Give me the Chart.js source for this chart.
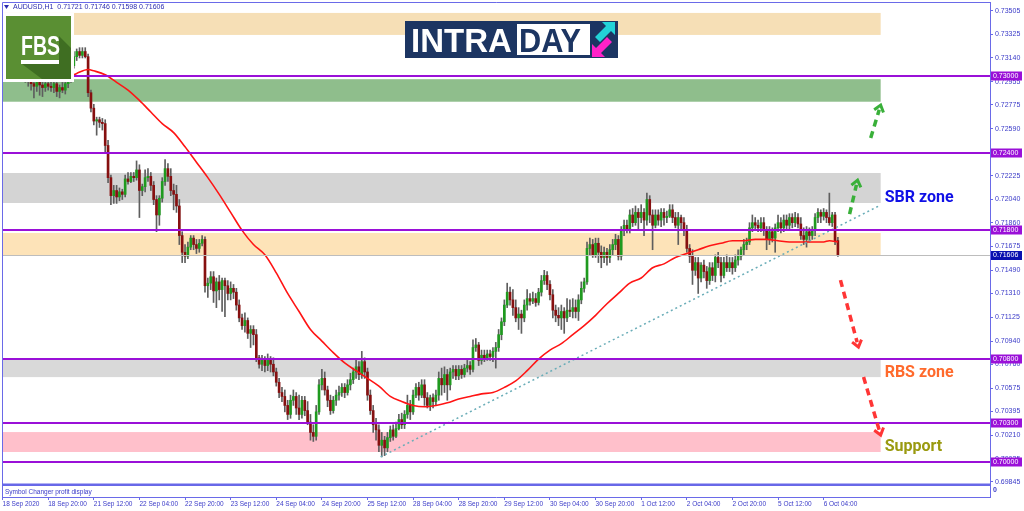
<!DOCTYPE html>
<html>
<head>
<meta charset="utf-8">
<script src="https://cdn.jsdelivr.net/npm/chart.js@4"></script>
<style>
  html, body { margin: 0; padding: 0; background: #fff; }
  #wrap { width: 1024px; height: 511px; }
</style>
</head>
<body>
<div id="wrap"><canvas id="chart" width="1024" height="511"></canvas></div>
<script>
// AUDUSD H1, 18 Sep 2020 04:00 .. 6 Oct 2020 09:00 (one bar per hour, weekends skipped)
const timeLabels = ['18 Sep 2020', '18 Sep 20:00', '21 Sep 12:00', '22 Sep 04:00', '22 Sep 20:00', '23 Sep 12:00',
  '24 Sep 04:00', '24 Sep 20:00', '25 Sep 12:00', '28 Sep 04:00', '28 Sep 20:00', '29 Sep 12:00', '30 Sep 04:00',
  '30 Sep 20:00', '1 Oct 12:00', '2 Oct 04:00', '2 Oct 20:00', '5 Oct 12:00', '6 Oct 04:00'];
const barsPerLabel = 16;

const priceTicks = [0.73505, 0.73325, 0.73140, 0.72955, 0.72775, 0.72590, 0.72410, 0.72225, 0.72040, 0.71860,
  0.71675, 0.71490, 0.71310, 0.71125, 0.70940, 0.70760, 0.70575, 0.70395, 0.70210, 0.70025, 0.69845];

// one line = 16 hourly bars
const opens = [
  0.7312,0.7311,0.7312,0.7314,0.7310,0.7308,0.7305,0.7303,0.7301,0.7298,0.7297,0.7294,0.7292,0.7295,0.7293,0.7291,
  0.7294,0.7292,0.7291,0.7294,0.7288,0.7291,0.7289,0.7294,0.7297,0.7308,0.7315,0.7319,0.7316,0.7319,0.7315,0.7287,
  0.7275,0.7265,0.7266,0.7264,0.7263,0.7246,0.7221,0.7207,0.7211,0.7206,0.7210,0.7208,0.7220,0.7218,0.7222,0.7221,
  0.7227,0.7211,0.7214,0.7221,0.7222,0.7215,0.7204,0.7192,0.7205,0.7218,0.7228,0.7222,0.7211,0.7208,0.7199,0.7176,
  0.7163,0.7160,0.7167,0.7174,0.7169,0.7166,0.7170,0.7173,0.7137,0.7139,0.7144,0.7133,0.7140,0.7134,0.7141,0.7137,
  0.7131,0.7135,0.7132,0.7122,0.7112,0.7106,0.7110,0.7100,0.7103,0.7099,0.7081,0.7076,0.7079,0.7075,0.7079,0.7076,
  0.7070,0.7062,0.7054,0.7051,0.7044,0.7037,0.7048,0.7051,0.7042,0.7037,0.7048,0.7040,0.7031,0.7023,0.7020,0.7039,
  0.7060,0.7065,0.7056,0.7048,0.7040,0.7048,0.7052,0.7054,0.7058,0.7054,0.7060,0.7064,0.7070,0.7074,0.7068,0.7078,
  0.7070,0.7052,0.7040,0.7029,0.7025,0.7013,0.7017,0.7011,0.7019,0.7025,0.7020,0.7026,0.7033,0.7029,0.7037,0.7044,
  0.7039,0.7052,0.7058,0.7052,0.7060,0.7050,0.7044,0.7050,0.7047,0.7052,0.7065,0.7060,0.7068,0.7060,0.7070,0.7072,
  0.7067,0.7072,0.7068,0.7073,0.7075,0.7072,0.7089,0.7091,0.7079,0.7083,0.7081,0.7084,0.7082,0.7086,0.7089,0.7099,
  0.7109,0.7122,0.7132,0.7126,0.7120,0.7112,0.7115,0.7112,0.7122,0.7127,0.7125,0.7127,0.7124,0.7132,0.7141,0.7145,
  0.7138,0.7130,0.7118,0.7114,0.7112,0.7117,0.7112,0.7118,0.7117,0.7120,0.7117,0.7126,0.7135,0.7140,0.7166,0.7169,
  0.7161,0.7170,0.7163,0.7159,0.7163,0.7159,0.7165,0.7169,0.7173,0.7160,0.7180,0.7184,0.7180,0.7192,0.7186,0.7194,
  0.7190,0.7194,0.7188,0.7204,0.7192,0.7184,0.7192,0.7188,0.7194,0.7190,0.7191,0.7196,0.7190,0.7184,0.7190,0.7186,
  0.7180,0.7166,0.7160,0.7149,0.7155,0.7143,0.7153,0.7148,0.7141,0.7151,0.7145,0.7159,0.7155,0.7145,0.7155,0.7151,
  0.7155,0.7151,0.7157,0.7160,0.7165,0.7169,0.7171,0.7182,0.7186,0.7184,0.7182,0.7186,0.7180,0.7173,0.7179,0.7174,
  0.7182,0.7186,0.7182,0.7188,0.7184,0.7190,0.7186,0.7190,0.7185,0.7176,0.7173,0.7179,0.7176,0.7180,0.7190,0.7194,
  0.7191,0.7194,0.7190,0.7186,0.7192,0.71721
];
const highs = [
  0.7316,0.7316,0.7317,0.7316,0.7312,0.7311,0.7308,0.7306,0.7303,0.7302,0.7300,0.7297,0.7298,0.7298,0.7297,0.7296,
  0.7297,0.7296,0.7295,0.7297,0.7293,0.7295,0.7297,0.7300,0.7311,0.7319,0.7321,0.7322,0.7322,0.7322,0.7317,0.7289,
  0.7278,0.7268,0.7268,0.7267,0.7266,0.7250,0.7223,0.7215,0.7215,0.7213,0.7212,0.7223,0.7225,0.7225,0.7225,0.7234,
  0.7231,0.7216,0.7227,0.7228,0.7225,0.7218,0.7207,0.7207,0.7221,0.7235,0.7232,0.7228,0.7216,0.7215,0.7204,0.7179,
  0.7169,0.7171,0.7176,0.7176,0.7173,0.7173,0.7176,0.7175,0.7143,0.7148,0.7148,0.7143,0.7145,0.7143,0.7143,0.7141,
  0.7140,0.7138,0.7135,0.7126,0.7115,0.7116,0.7112,0.7106,0.7106,0.7103,0.7083,0.7083,0.7082,0.7084,0.7082,0.7081,
  0.7073,0.7065,0.7058,0.7056,0.7048,0.7052,0.7056,0.7054,0.7052,0.7051,0.7051,0.7047,0.7037,0.7029,0.7044,0.7064,
  0.7072,0.7070,0.7059,0.7052,0.7051,0.7056,0.7059,0.7061,0.7061,0.7064,0.7069,0.7073,0.7079,0.7078,0.7086,0.7081,
  0.7073,0.7056,0.7044,0.7034,0.7029,0.7023,0.7020,0.7023,0.7028,0.7029,0.7031,0.7037,0.7038,0.7040,0.7052,0.7048,
  0.7056,0.7061,0.7062,0.7064,0.7064,0.7054,0.7052,0.7053,0.7056,0.7070,0.7073,0.7074,0.7072,0.7073,0.7075,0.7075,
  0.7075,0.7075,0.7076,0.7079,0.7078,0.7095,0.7096,0.7093,0.7087,0.7087,0.7087,0.7087,0.7089,0.7093,0.7103,0.7112,
  0.7126,0.7139,0.7136,0.7134,0.7126,0.7120,0.7118,0.7126,0.7134,0.7131,0.7132,0.7131,0.7135,0.7145,0.7149,0.7148,
  0.7141,0.7134,0.7122,0.7120,0.7122,0.7120,0.7127,0.7126,0.7127,0.7126,0.7130,0.7140,0.7143,0.7171,0.7174,0.7173,
  0.7174,0.7174,0.7168,0.7167,0.7166,0.7169,0.7173,0.7177,0.7176,0.7183,0.7188,0.7188,0.7196,0.7197,0.7199,0.7197,
  0.7200,0.7197,0.7209,0.7207,0.7196,0.7196,0.7196,0.7197,0.7197,0.7195,0.7200,0.7200,0.7194,0.7194,0.7192,0.7190,
  0.7184,0.7169,0.7165,0.7159,0.7159,0.7155,0.7157,0.7152,0.7155,0.7155,0.7161,0.7163,0.7159,0.7159,0.7161,0.7159,
  0.7159,0.7161,0.7165,0.7167,0.7173,0.7174,0.7186,0.7192,0.7190,0.7188,0.7190,0.7190,0.7183,0.7183,0.7182,0.7185,
  0.7192,0.7190,0.7192,0.7192,0.7193,0.7193,0.7194,0.7193,0.7190,0.7182,0.7183,0.7182,0.7183,0.7193,0.7197,0.7196,
  0.7197,0.7196,0.7209,0.7194,0.7194,0.71746
];
const lows = [
  0.7308,0.7309,0.7309,0.7308,0.7305,0.7302,0.7300,0.7298,0.7295,0.7292,0.7289,0.7283,0.7288,0.7285,0.7284,0.7288,
  0.7289,0.7288,0.7287,0.7284,0.7283,0.7287,0.7286,0.7291,0.7295,0.7306,0.7312,0.7314,0.7314,0.7314,0.7284,0.7272,
  0.7262,0.7254,0.7260,0.7258,0.7241,0.7217,0.7200,0.7201,0.7201,0.7203,0.7204,0.7206,0.7216,0.7217,0.7218,0.7219,
  0.7190,0.7207,0.7210,0.7218,0.7211,0.7200,0.7179,0.7184,0.7202,0.7215,0.7218,0.7207,0.7196,0.7194,0.7169,0.7155,
  0.7155,0.7158,0.7165,0.7165,0.7162,0.7163,0.7168,0.7132,0.7128,0.7134,0.7124,0.7120,0.7126,0.7117,0.7113,0.7126,
  0.7126,0.7127,0.7118,0.7109,0.7103,0.7101,0.7096,0.7089,0.7091,0.7078,0.7073,0.7071,0.7070,0.7071,0.7070,0.7067,
  0.7059,0.7050,0.7047,0.7039,0.7033,0.7034,0.7044,0.7037,0.7033,0.7034,0.7036,0.7029,0.7017,0.7016,0.7017,0.7037,
  0.7056,0.7052,0.7043,0.7037,0.7038,0.7044,0.7048,0.7051,0.7050,0.7052,0.7056,0.7061,0.7065,0.7064,0.7065,0.7065,
  0.7048,0.7037,0.7023,0.7017,0.7008,0.7004,0.7005,0.7008,0.7016,0.7017,0.7019,0.7025,0.7026,0.7026,0.7034,0.7033,
  0.7037,0.7050,0.7048,0.7050,0.7044,0.7042,0.7040,0.7042,0.7044,0.7048,0.7052,0.7054,0.7048,0.7056,0.7065,0.7064,
  0.7064,0.7065,0.7066,0.7070,0.7068,0.7070,0.7086,0.7075,0.7076,0.7078,0.7079,0.7079,0.7078,0.7073,0.7086,0.7095,
  0.7106,0.7120,0.7122,0.7114,0.7109,0.7103,0.7100,0.7109,0.7118,0.7122,0.7123,0.7121,0.7122,0.7129,0.7138,0.7134,
  0.7126,0.7112,0.7109,0.7106,0.7103,0.7100,0.7109,0.7113,0.7112,0.7112,0.7110,0.7123,0.7132,0.7138,0.7161,0.7159,
  0.7159,0.7155,0.7151,0.7155,0.7153,0.7155,0.7161,0.7165,0.7157,0.7157,0.7176,0.7178,0.7178,0.7183,0.7184,0.7180,
  0.7186,0.7176,0.7184,0.7186,0.7165,0.7182,0.7184,0.7183,0.7184,0.7186,0.7190,0.7186,0.7182,0.7169,0.7180,0.7176,
  0.7163,0.7155,0.7138,0.7145,0.7131,0.7140,0.7143,0.7135,0.7138,0.7141,0.7140,0.7151,0.7140,0.7143,0.7148,0.7148,
  0.7146,0.7148,0.7153,0.7157,0.7161,0.7165,0.7169,0.7179,0.7180,0.7179,0.7179,0.7176,0.7165,0.7169,0.7171,0.7163,
  0.7179,0.7178,0.7179,0.7180,0.7180,0.7182,0.7183,0.7182,0.7173,0.7169,0.7167,0.7171,0.7173,0.7176,0.7186,0.7186,
  0.7188,0.7186,0.7184,0.7183,0.7169,0.71598
];
const closes = [
  0.7311,0.7312,0.7314,0.7310,0.7308,0.7305,0.7303,0.7301,0.7298,0.7297,0.7294,0.7292,0.7295,0.7293,0.7291,0.7294,
  0.7292,0.7291,0.7294,0.7288,0.7291,0.7289,0.7294,0.7297,0.7308,0.7315,0.7319,0.7316,0.7319,0.7315,0.7287,0.7275,
  0.7265,0.7266,0.7264,0.7263,0.7246,0.7221,0.7207,0.7211,0.7206,0.7210,0.7208,0.7220,0.7218,0.7222,0.7221,0.7227,
  0.7211,0.7214,0.7221,0.7222,0.7215,0.7204,0.7192,0.7205,0.7218,0.7228,0.7222,0.7211,0.7208,0.7199,0.7176,0.7163,
  0.7160,0.7167,0.7174,0.7169,0.7166,0.7170,0.7173,0.7137,0.7139,0.7144,0.7133,0.7140,0.7134,0.7141,0.7137,0.7131,
  0.7135,0.7132,0.7122,0.7112,0.7106,0.7110,0.7100,0.7103,0.7099,0.7081,0.7076,0.7079,0.7075,0.7079,0.7076,0.7070,
  0.7062,0.7054,0.7051,0.7044,0.7037,0.7048,0.7051,0.7042,0.7037,0.7048,0.7040,0.7031,0.7023,0.7020,0.7039,0.7060,
  0.7065,0.7056,0.7048,0.7040,0.7048,0.7052,0.7054,0.7058,0.7054,0.7060,0.7064,0.7070,0.7074,0.7068,0.7078,0.7070,
  0.7052,0.7040,0.7029,0.7025,0.7013,0.7017,0.7011,0.7019,0.7025,0.7020,0.7026,0.7033,0.7029,0.7037,0.7044,0.7039,
  0.7052,0.7058,0.7052,0.7060,0.7050,0.7044,0.7050,0.7047,0.7052,0.7065,0.7060,0.7068,0.7060,0.7070,0.7072,0.7067,
  0.7072,0.7068,0.7073,0.7075,0.7072,0.7089,0.7091,0.7079,0.7083,0.7081,0.7084,0.7082,0.7086,0.7089,0.7099,0.7109,
  0.7122,0.7132,0.7126,0.7120,0.7112,0.7115,0.7112,0.7122,0.7127,0.7125,0.7127,0.7124,0.7132,0.7141,0.7145,0.7138,
  0.7130,0.7118,0.7114,0.7112,0.7117,0.7112,0.7118,0.7117,0.7120,0.7117,0.7126,0.7135,0.7140,0.7166,0.7169,0.7161,
  0.7170,0.7163,0.7159,0.7163,0.7159,0.7165,0.7169,0.7173,0.7160,0.7180,0.7184,0.7180,0.7192,0.7186,0.7194,0.7190,
  0.7194,0.7188,0.7204,0.7192,0.7184,0.7192,0.7188,0.7194,0.7190,0.7191,0.7196,0.7190,0.7184,0.7190,0.7186,0.7180,
  0.7166,0.7160,0.7149,0.7155,0.7143,0.7153,0.7148,0.7141,0.7151,0.7145,0.7159,0.7155,0.7145,0.7155,0.7151,0.7155,
  0.7151,0.7157,0.7160,0.7165,0.7169,0.7171,0.7182,0.7186,0.7184,0.7182,0.7186,0.7180,0.7173,0.7179,0.7174,0.7182,
  0.7186,0.7182,0.7188,0.7184,0.7190,0.7186,0.7190,0.7185,0.7176,0.7173,0.7179,0.7176,0.7180,0.7190,0.7194,0.7191,
  0.7194,0.7190,0.7186,0.7192,0.7172,0.71606
];

// red moving average at these bar numbers
const maIndex = [8, 16, 24, 26, 30, 32, 36, 40, 44, 48, 52, 56, 60, 64, 68, 72, 76, 80, 84, 88, 92, 96, 100, 104,
  108, 112, 116, 120, 124, 128, 132, 136, 140, 144, 148, 152, 156, 160, 164, 168, 172, 176, 180, 184, 188, 192, 196,
  200, 204, 208, 212, 216, 220, 224, 228, 232, 236, 240, 244, 248, 252, 256, 260, 264, 268, 272, 276, 280, 284, 288,
  290, 293];
const maValues = [0.7298, 0.7299, 0.7300, 0.7302, 0.7305, 0.7304, 0.7301, 0.7295, 0.7289, 0.7281, 0.7272, 0.7263,
  0.7256, 0.7245, 0.7233, 0.7221, 0.7208, 0.7194, 0.7180, 0.7169, 0.7161, 0.7147, 0.7131, 0.7117, 0.7103, 0.7094,
  0.7085, 0.7077, 0.7071, 0.7065, 0.7059, 0.7051, 0.7047, 0.7044, 0.7043, 0.7044, 0.7046, 0.7049, 0.7051, 0.7053,
  0.7054, 0.7058, 0.7063, 0.7071, 0.7080, 0.7087, 0.7092, 0.7099, 0.7106, 0.7114, 0.7123, 0.7131, 0.7139, 0.7143,
  0.7151, 0.7154, 0.7159, 0.7162, 0.7165, 0.7168, 0.7170, 0.7172, 0.7172, 0.7173, 0.7173, 0.7172, 0.7171, 0.7171,
  0.7171, 0.7171, 0.7172, 0.7171];

// dotted trend line
const trendIndex = [132.6, 308];
const trendValues = [0.70040, 0.71997];

// horizontal levels and the current bid
const levelPrices = [0.73000, 0.72400, 0.71800, 0.70800, 0.70300, 0.70000];
const bidPrice = 0.71606;

// shaded zones (price top / bottom), they end at bar 308
const zoneTops = [0.73490, 0.72975, 0.72246, 0.71780, 0.70793, 0.70233];
const zoneBottoms = [0.73319, 0.72800, 0.72013, 0.71609, 0.70660, 0.70078];
const zoneEnd = 308;
const zoneColors = ['#f6dfb6', '#8fbe8c', '#d4d4d4', '#fde3b8', '#d9d9d9', '#ffc0cb'];

const zoneTexts = ['SBR zone', 'RBS zone', 'Support'];
const zoneTextPrices = [0.72021, 0.70661, 0.70082];
const zoneTextColors = ['#1010e6', '#ff6a2c', '#9a9a10'];
const zoneTextIndex = 309.4;

// arrows: tail -> tip in (bar, price)
const arrowFromIndex = [297.1, 304.5, 293.9, 302.0];
const arrowFromPrice = [0.71927, 0.72518, 0.71414, 0.70661];
const arrowToIndex = [299.9, 308.0, 300.2, 308.0];
const arrowToPrice = [0.72191, 0.72774, 0.70894, 0.70210];
const arrowColors = ['#39b039', '#39b039', '#ff3535', '#ff3535'];

const AXIS = '#6a6ae8';
const AXIS_TEXT = '#3a3ac8';
const BULL = '#1f9a1f';
const BEAR = '#861010';
const WICK = '#5e5e5e';

const wickData = highs.map((h, i) => ({ x: i, y: [lows[i], h] }));
const bodyData = opens.map((o, i) => ({ x: i, y: [o, closes[i]] }));
const bodyColors = opens.map((o, i) => (closes[i] >= o ? BULL : BEAR));
const maData = maIndex.map((x, k) => ({ x, y: maValues[k] }));
const trendData = trendIndex.map((x, k) => ({ x, y: trendValues[k] }));

function drawArrow(ctx, x1, y1, x2, y2, color) {
  const ang = Math.atan2(y2 - y1, x2 - x1);
  const head = 8;
  ctx.strokeStyle = color;
  ctx.lineWidth = 3.5;
  ctx.setLineDash([7, 5]);
  ctx.beginPath();
  ctx.moveTo(x1, y1);
  ctx.lineTo(x2 - Math.cos(ang) * 5, y2 - Math.sin(ang) * 5);
  ctx.stroke();
  ctx.setLineDash([]);
  ctx.lineWidth = 3;
  ctx.lineJoin = 'miter';
  ctx.beginPath();
  ctx.moveTo(x2 - head * Math.cos(ang - 0.65), y2 - head * Math.sin(ang - 0.65));
  ctx.lineTo(x2, y2);
  ctx.lineTo(x2 - head * Math.cos(ang + 0.65), y2 - head * Math.sin(ang + 0.65));
  ctx.stroke();
}

function drawFbsLogo(ctx) {
  ctx.fillStyle = '#ffffff';
  ctx.fillRect(3, 13, 71, 69);
  ctx.fillStyle = '#5a8f33';
  ctx.fillRect(6, 16, 65, 63);
  // long shadow
  ctx.fillStyle = '#3f6e22';
  ctx.beginPath();
  ctx.moveTo(59, 36); ctx.lineTo(71, 48); ctx.lineTo(71, 79); ctx.lineTo(42, 79);
  ctx.lineTo(22, 64); ctx.lineTo(59, 64);
  ctx.closePath();
  ctx.fill();
  ctx.fillStyle = '#ffffff';
  ctx.font = 'bold 28px "Liberation Sans", Arial, sans-serif';
  ctx.textBaseline = 'alphabetic';
  ctx.textAlign = 'left';
  ctx.fillText('FBS', 21, 55, 39);
  ctx.fillRect(21, 60, 38, 4);
}

function drawIntradayLogo(ctx) {
  ctx.fillStyle = '#1c3562';
  ctx.fillRect(405, 21, 213, 37);
  ctx.fillStyle = '#ffffff';
  ctx.fillRect(517, 24, 73, 31);
  ctx.font = 'bold 33px "Liberation Sans", Arial, sans-serif';
  ctx.textBaseline = 'alphabetic';
  ctx.textAlign = 'left';
  ctx.fillStyle = '#ffffff';
  ctx.fillText('INTRA', 411, 52, 102);
  ctx.fillStyle = '#1c3562';
  ctx.fillText('DAY', 519, 52, 62);
  // cyan arrow up-right
  ctx.fillStyle = '#22d3d8';
  ctx.beginPath();
  ctx.moveTo(615, 22); ctx.lineTo(615, 35); ctx.lineTo(611, 31); ctx.lineTo(600, 42);
  ctx.lineTo(595, 37); ctx.lineTo(606, 26); ctx.lineTo(602, 22);
  ctx.closePath();
  ctx.fill();
  // magenta arrow down-left
  ctx.fillStyle = '#ff22c8';
  ctx.beginPath();
  ctx.moveTo(592, 57); ctx.lineTo(592, 44); ctx.lineTo(596, 48); ctx.lineTo(607, 37);
  ctx.lineTo(612, 42); ctx.lineTo(601, 53); ctx.lineTo(605, 57);
  ctx.closePath();
  ctx.fill();
}

const overlay = {
  id: 'overlay',
  beforeDatasetsDraw(chart) {
    const { ctx, chartArea: a, scales: { x, y } } = chart;
    ctx.save();
    const xr = x.getPixelForValue(zoneEnd);
    zoneTops.forEach((t, k) => {
      const y1 = y.getPixelForValue(t);
      const y2 = y.getPixelForValue(zoneBottoms[k]);
      ctx.fillStyle = zoneColors[k];
      ctx.fillRect(a.left, y1, xr - a.left, y2 - y1);
    });
    ctx.restore();
  },
  afterDatasetsDraw(chart) {
    const { ctx, chartArea: a, scales: { x, y } } = chart;
    ctx.save();
    // bid line
    const yb = Math.round(y.getPixelForValue(bidPrice)) + 0.5;
    ctx.strokeStyle = '#bdbdbd';
    ctx.lineWidth = 1;
    ctx.beginPath(); ctx.moveTo(a.left, yb); ctx.lineTo(a.right, yb); ctx.stroke();
    // level lines
    ctx.strokeStyle = '#9a10d8';
    ctx.lineWidth = 2;
    levelPrices.forEach(p => {
      const yy = Math.round(y.getPixelForValue(p));
      ctx.beginPath(); ctx.moveTo(a.left, yy); ctx.lineTo(a.right, yy); ctx.stroke();
    });
    // arrows
    arrowFromIndex.forEach((fi, k) => {
      drawArrow(ctx, x.getPixelForValue(fi), y.getPixelForValue(arrowFromPrice[k]),
        x.getPixelForValue(arrowToIndex[k]), y.getPixelForValue(arrowToPrice[k]), arrowColors[k]);
    });
    // zone captions
    ctx.font = 'bold 16px Roboto, "Liberation Sans", sans-serif';
    ctx.textAlign = 'left';
    ctx.textBaseline = 'alphabetic';
    zoneTexts.forEach((t, k) => {
      ctx.fillStyle = zoneTextColors[k];
      ctx.fillText(t, x.getPixelForValue(zoneTextIndex), y.getPixelForValue(zoneTextPrices[k]));
    });
    ctx.restore();
  },
  afterDraw(chart) {
    const { ctx, chartArea: a, scales: { y } } = chart;
    ctx.save();
    // frame left/top
    ctx.strokeStyle = AXIS;
    ctx.lineWidth = 1;
    ctx.beginPath();
    ctx.moveTo(a.left + 0.5, a.bottom); ctx.lineTo(a.left + 0.5, a.top + 0.5); ctx.lineTo(a.right, a.top + 0.5);
    ctx.stroke();

    // indicator sub-window
    ctx.fillStyle = '#ffffff';
    ctx.fillRect(a.left + 1, 486, a.right - a.left - 1.5, a.bottom - 486 - 0.5);
    ctx.fillStyle = '#6868e8';
    ctx.fillRect(a.left, 483.5, a.right - a.left, 2.5);
    ctx.fillStyle = AXIS_TEXT;
    ctx.font = '6.5px "Liberation Sans", Arial, sans-serif';
    ctx.textBaseline = 'middle';
    ctx.textAlign = 'left';
    ctx.fillText('Symbol Changer profit display', a.left + 3, 492);
    ctx.font = 'bold 7px "Liberation Sans", Arial, sans-serif';
    ctx.fillText('0', a.right + 3, 490);

    // price boxes on the right axis
    ctx.font = '7px "Liberation Sans", Arial, sans-serif';
    levelPrices.forEach(p => {
      const yy = Math.round(y.getPixelForValue(p));
      ctx.fillStyle = '#9a10d8';
      ctx.fillRect(a.right + 1, yy - 4.5, 31, 9);
      ctx.fillStyle = '#ffffff';
      ctx.fillText(p.toFixed(5), a.right + 3, yy + 0.5);
    });
    const yb = Math.round(y.getPixelForValue(bidPrice));
    ctx.fillStyle = '#0a10b0';
    ctx.fillRect(a.right + 1, yb - 4, 31, 9);
    ctx.fillStyle = '#ffffff';
    ctx.fillText(bidPrice.toFixed(5), a.right + 3, yb + 0.5);

    // chart caption
    ctx.fillStyle = '#2c2cb0';
    ctx.beginPath();
    ctx.moveTo(4, 5); ctx.lineTo(9, 5); ctx.lineTo(6.5, 9); ctx.closePath();
    ctx.fill();
    ctx.font = '7px "Liberation Sans", Arial, sans-serif';
    ctx.fillText('AUDUSD,H1  0.71721 0.71746 0.71598 0.71606', 13, 7.5);

    drawFbsLogo(ctx);
    drawIntradayLogo(ctx);
    ctx.restore();
  }
};

new Chart(document.getElementById('chart'), {
  type: 'bar',
  data: {
    datasets: [
      { type: 'bar', data: wickData, backgroundColor: WICK, barThickness: 1, grouped: false, order: 4 },
      { type: 'bar', data: bodyData, backgroundColor: bodyColors, barThickness: 2, grouped: false,
        minBarLength: 1, order: 3 },
      { type: 'line', data: maData, borderColor: '#ff1414', borderWidth: 1.6, pointRadius: 0,
        cubicInterpolationMode: 'monotone', order: 2 },
      { type: 'line', data: trendData, borderColor: '#6aadb8', borderWidth: 1.5, borderDash: [2, 3],
        pointRadius: 0, order: 1 }
    ]
  },
  options: {
    responsive: false,
    animation: false,
    devicePixelRatio: 1,
    events: [],
    layout: { padding: { left: 2, top: 2, right: 0, bottom: 0 } },
    plugins: { legend: { display: false }, tooltip: { enabled: false } },
    scales: {
      x: {
        type: 'linear',
        offset: false,
        min: -0.2,
        max: 346.35,
        afterFit(s) { s.height = 14; s.paddingLeft = 0; s.paddingRight = 0; },
        afterBuildTicks(s) { s.ticks = timeLabels.map((t, k) => ({ value: k * barsPerLabel })); },
        ticks: {
          autoSkip: false, maxRotation: 0, minRotation: 0, align: 'start', padding: 0,
          color: AXIS_TEXT, font: { family: '"Liberation Sans", Arial, sans-serif', size: 6.5 },
          callback: (v, k) => timeLabels[k]
        },
        grid: { offset: false, drawOnChartArea: false, drawTicks: true, tickLength: 3, color: AXIS },
        border: { color: AXIS }
      },
      y: {
        type: 'linear',
        position: 'right',
        bounds: 'data',
        min: 0.697284,
        max: 0.735749,
        afterFit(s) { s.width = 34; s.paddingTop = 0; s.paddingBottom = 0; },
        afterBuildTicks(s) { s.ticks = priceTicks.map(v => ({ value: v })); },
        ticks: {
          autoSkip: false, padding: 2, color: AXIS_TEXT,
          font: { family: '"Liberation Sans", Arial, sans-serif', size: 7 },
          callback: v => Number(v).toFixed(5)
        },
        grid: { drawOnChartArea: false, drawTicks: true, tickLength: 3, color: AXIS },
        border: { color: AXIS }
      }
    }
  },
  plugins: [overlay]
});
</script>
</body>
</html>
